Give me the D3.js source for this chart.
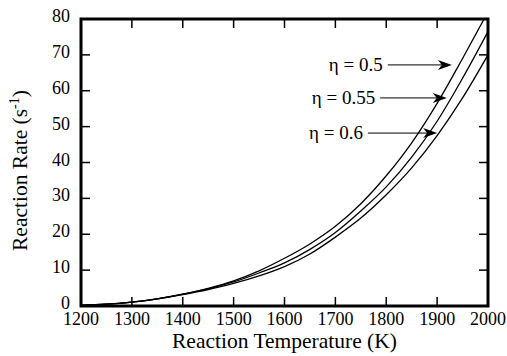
<!DOCTYPE html>
<html>
<head>
	<title>Reaction Rate</title>
	<script type="text/javascript" src="https://cdn.jsdelivr.net/npm/d3@7"></script>
	<style type="text/css">
		body{ margin: 0; background: white; }
	</style>
</head>
<body>

	<svg width=507 height=356 class="chart"></svg>
	<script type="text/javascript">

		// temperatures (K) and rates (1/s)
		temps = [1200, 1250, 1300, 1350, 1400, 1450, 1500, 1550, 1600, 1650, 1700, 1750, 1800, 1850, 1900, 1950, 2000]
		rate_05  = [0.2, 0.5, 1.1, 2.0, 3.3, 4.9, 7.0, 9.8, 13.3, 17.3, 22.2, 28.5, 36.3, 45.5, 56.5, 69.0, 82.0]
		rate_055 = [0.2, 0.5, 1.1, 2.0, 3.3, 4.8, 6.7, 9.2, 12.0, 15.8, 20.5, 26.5, 33.2, 41.5, 51.5, 63.5, 76.5]
		rate_06  = [0.2, 0.5, 1.1, 2.0, 3.2, 4.6, 6.3, 8.4, 11.0, 14.5, 19.2, 24.5, 31.0, 38.5, 47.5, 58.0, 70.0]

		x_ticks = [1200, 1300, 1400, 1500, 1600, 1700, 1800, 1900, 2000]
		y_ticks = [0, 10, 20, 30, 40, 50, 60, 70, 80]

		// arrow annotations: label, arrow tail temperature, arrow tip (T, rate)
		ann_labels = ['η = 0.5', 'η = 0.55', 'η = 0.6']
		ann_tail_T = [1803, 1788, 1764]
		ann_tip_T  = [1929, 1919, 1900]
		ann_tip_V  = [67.2, 58.0, 48.2]

		margin = {'top':19, 'right':19, 'bottom':50, 'left':81}
		svg_ele = '.chart'
		font = "'Liberation Serif', 'Times New Roman', Times, serif"

		active_width = d3.select(svg_ele).attr('width') - margin.right - margin.left
		active_height = d3.select(svg_ele).attr('height') - margin.top - margin.bottom

		x = d3.scaleLinear().domain([1200, 2000]).range([0, active_width])
		y = d3.scaleLinear().domain([0, 80]).range([active_height, 0])

		svg = d3.select(svg_ele).attr('font-family', font)

		svg.append('defs').append('clipPath').attr('id', 'clip')
			.append('rect').attr('width', active_width).attr('height', active_height)

		g = svg.append('g')
			.attr('transform', 'translate(' + margin.left + ',' + margin.top + ')')

		tick_len = 9

		// inner ticks on all four sides
		g.append('g').selectAll('line').data(x_ticks).enter().append('line')
			.attr('x1', d => x(d)).attr('x2', d => x(d))
			.attr('y1', active_height).attr('y2', active_height - tick_len)
			.attr('stroke', 'black').attr('stroke-width', 1.5)
		g.append('g').selectAll('line').data(x_ticks).enter().append('line')
			.attr('x1', d => x(d)).attr('x2', d => x(d))
			.attr('y1', 0).attr('y2', tick_len)
			.attr('stroke', 'black').attr('stroke-width', 1.5)
		g.append('g').selectAll('line').data(y_ticks).enter().append('line')
			.attr('x1', 0).attr('x2', tick_len)
			.attr('y1', d => y(d)).attr('y2', d => y(d))
			.attr('stroke', 'black').attr('stroke-width', 1.5)
		g.append('g').selectAll('line').data(y_ticks).enter().append('line')
			.attr('x1', active_width).attr('x2', active_width - tick_len)
			.attr('y1', d => y(d)).attr('y2', d => y(d))
			.attr('stroke', 'black').attr('stroke-width', 1.5)

		// tick labels
		g.append('g').selectAll('text').data(x_ticks).enter().append('text')
			.attr('x', d => x(d)).attr('y', active_height + 19)
			.attr('text-anchor', 'middle').attr('font-size', 18)
			.text(d => d)
		g.append('g').selectAll('text').data(y_ticks).enter().append('text')
			.attr('x', -11).attr('y', d => y(d) - 3)
			.attr('dy', '0.34em')
			.attr('text-anchor', 'end').attr('font-size', 18)
			.text(d => d)

		// curves
		line = d3.line()
			.x(function(d, i) {return x(temps[i])})
			.y(function(d) {return y(d)})
			.curve(d3.curveMonotoneX)

		g.append('g').attr('clip-path', 'url(#clip)')
			.selectAll('path')
			.data([rate_05, rate_055, rate_06])
			.enter()
			.append('path')
			.attr('d', line)
			.attr('fill', 'none')
			.attr('stroke', 'black')
			.attr('stroke-width', 1.3)

		// frame
		g.append('rect')
			.attr('width', active_width).attr('height', active_height)
			.attr('fill', 'none').attr('stroke', 'black').attr('stroke-width', 3)

		// annotations
		ann = g.append('g').selectAll('g').data(ann_labels).enter().append('g')

		ann.append('line')
			.attr('x1', (d, i) => x(ann_tail_T[i]))
			.attr('x2', (d, i) => x(ann_tip_T[i]) - 8)
			.attr('y1', (d, i) => y(ann_tip_V[i]))
			.attr('y2', (d, i) => y(ann_tip_V[i]))
			.attr('stroke', 'black').attr('stroke-width', 1)

		ann.append('path')
			.attr('d', function(d, i) {
				tx = x(ann_tip_T[i]); ty = y(ann_tip_V[i])
				return 'M' + tx + ',' + ty + 'L' + (tx - 14) + ',' + (ty - 5) +
					'L' + (tx - 10) + ',' + ty + 'L' + (tx - 14) + ',' + (ty + 5) + 'Z'
			})
			.attr('fill', 'black')

		ann.append('text')
			.attr('x', (d, i) => x(ann_tail_T[i]) - 5)
			.attr('y', (d, i) => y(ann_tip_V[i]))
			.attr('dy', '0.33em')
			.attr('text-anchor', 'end').attr('font-size', 19)
			.text(d => d)

		// axis titles
		svg.append('text')
			.attr('x', margin.left + active_width / 2).attr('y', 348)
			.attr('text-anchor', 'middle').attr('font-size', 21.5)
			.text('Reaction Temperature (K)')

		yt = svg.append('text')
			.attr('transform', 'translate(27,' + (margin.top + active_height / 2 + 8) + ') rotate(-90)')
			.attr('text-anchor', 'middle').attr('font-size', 21.5)
		yt.append('tspan').text('Reaction Rate (s')
		yt.append('tspan').attr('dy', -8).attr('font-size', 14).text('-1')
		yt.append('tspan').attr('dy', 8).text(')')

	</script>
	
</body>
</html>
